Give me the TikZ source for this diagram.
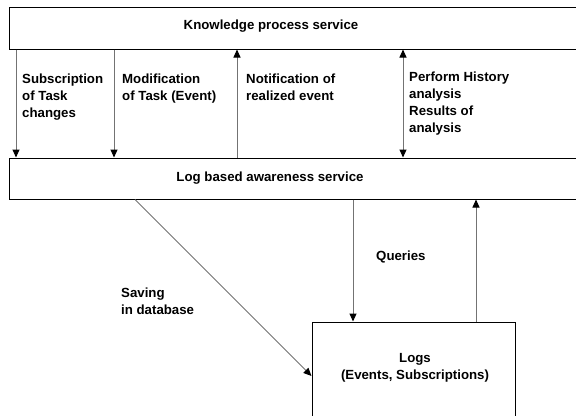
\documentclass[tikz,border=0pt]{standalone}
\usepackage{fontspec}
\setmainfont{Liberation Sans}
\usepackage{tikz}
\usetikzlibrary{arrows.meta}

\begin{document}
\begin{tikzpicture}
[x=1bp,y=-1bp,font=\bfseries\fontsize{13.3}{17.3}\selectfont]
\tikzset{
	service/.style = {draw, line width=1bp, inner sep=0},
	flow/.style = {draw=black!55, line width=1bp},
	tip/.style = {-{Triangle[black,length=8bp,width=7bp]}},
	txt/.style = {anchor=base west, align=left, inner sep=0}
}

\useasboundingbox (0,0) rectangle (576,415);

% services and the log store
\node (kps) [service, minimum width=580bp, minimum height=42bp] at (300,28) {};
\node (lbas) [service, minimum width=580bp, minimum height=41bp] at (300,178.5) {};
\node (logs) [service, minimum width=203bp, minimum height=108bp] at (413.5,376) {};

\node (kpstxt) [anchor=base, inner sep=0] at (271,29) {Knowledge process service};
\node (lbastxt) [anchor=base, inner sep=0] at (270,181) {Log based awareness service};
\node (logstxt) [anchor=base, align=center, inner sep=0] at (415,379.3) {Logs\\(Events, Subscriptions)};

% between the two services (base of a text node is its last line)
\draw [flow, tip] (kps.south -| 16,0) -- (lbas.north -| 16,0);
\draw [flow, tip] (kps.south -| 114,0) -- (lbas.north -| 114,0);
\draw [flow, tip] (lbas.north -| 237,0) -- (kps.south -| 237,0);
\draw [flow, {Triangle[black,length=8bp,width=7bp]}-{Triangle[black,length=8bp,width=7bp]}] (kps.south -| 403,0) -- (lbas.north -| 403,0);

\node (subs) [txt] at (22,117.6) {Subscription\\of Task\\changes};
\node (modif) [txt] at (122,100.3) {Modification\\of Task (Event)};
\node (notif) [txt] at (246,100.3) {Notification of\\realized event};
\node (hist) [txt] at (409,132.9) {Perform History\\analysis\\Results of\\analysis};

% down to the logs
\draw [flow, tip] (lbas.south -| 135,0) -- (logs.west);
\draw [flow, tip] (lbas.south -| 353,0) -- (logs.north -| 353,0);
\draw [flow, tip] (logs.north -| 476,0) -- (lbas.south -| 476,0);

\node (save) [txt] at (121,314.3) {Saving\\in database};
\node (query) [txt] at (376,260) {Queries};
\end{tikzpicture}
\end{document}
